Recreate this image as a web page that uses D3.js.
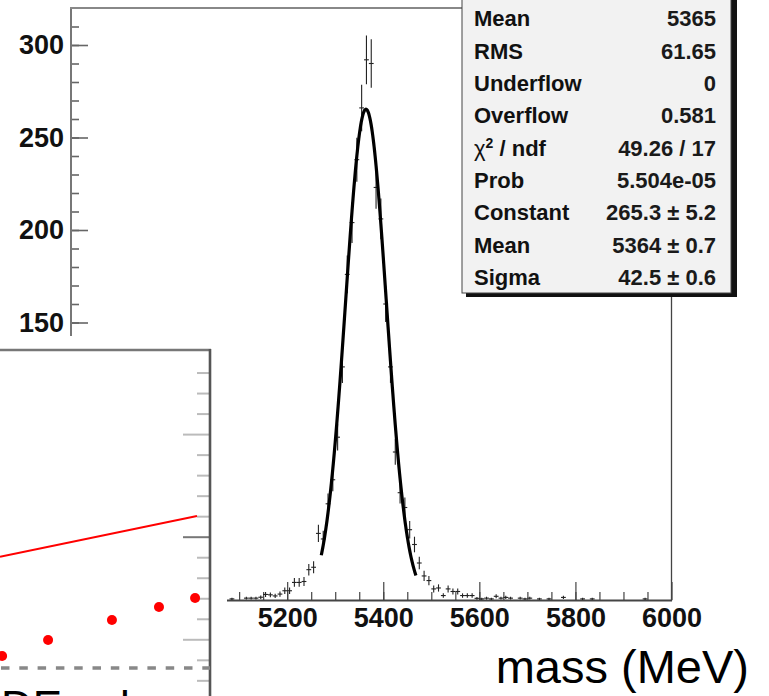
<!DOCTYPE html>
<html>
<head>
<meta charset="utf-8">
<script src="https://cdn.jsdelivr.net/npm/d3@7"></script>
<style>
  html, body { margin: 0; padding: 0; background: #fff; }
  svg { display: block; }
  text { font-family: "Liberation Sans", Arial, Helvetica, sans-serif; }
</style>
</head>
<body>
<svg id="chart" width="769" height="696"></svg>
<script>
// ---------------- data ----------------
const massBins = [5085,5115,5125,5135,5145,5155,5165,5175,5185,5195,5205,5215,5225,5235,5245,5255,5265,5275,5285,5295,5305,5315,5325,5335,5345,5355,5365,5375,5385,5395,5405,5415,5425,5435,5445,5455,5465,5475,5485,5495,5505,5515,5525,5535,5545,5555,5565,5575,5585,5595,5605,5615,5625,5635,5645,5655,5665,5685,5695,5705,5725,5745,5775,5815,5835,5945];
const counts = [0.6,1,1,1,1.5,3,2.8,2.2,3.2,5,5,9.5,9.5,10,16.4,17.7,36,33,52,65,88,126,176,204,238,266,292,290,223,206,160,126,80,58,50,38,30,20,13,10.5,6,6.5,2.4,6,4.6,4.6,2.4,2.4,2.4,0.9,0.6,1,0.6,2,1,1.4,1,1,0.6,1,0.6,0.6,1.4,0.6,0.6,0.6];
const binWidth = 10;
const errScale = 0.77;

const fitConstant = 265.3, fitMean = 5364, fitSigma = 42.5;
const fitRange = [5271, 5468];

const xMajorTicks = [5000, 5200, 5400, 5600, 5800, 6000];
const xTickLabels = ["5000", "5200", "5400", "5600", "5800", "6000"];
const yMajorTicks = [150, 200, 250, 300];

const statLabels = ["Mean", "RMS", "Underflow", "Overflow", "χ2 / ndf", "Prob", "Constant", "Mean", "Sigma"];
const statValues = ["5365", "61.65", "0", "0.581", "49.26 / 17", "5.504e-05", "265.3 ± 5.2", "5364 ± 0.7", "42.5 ± 0.6"];

// inset (partially visible second plot)
const insetDotX = [1, 22.9, 53.3, 75.7, 92.9];
const insetDotY = [-0.81, -0.03, 0.94, 1.57, 2.01];
const insetLineX = [0, 93.8];
const insetLineY = [4.02, 6.01];
const insetDashedY = -1.4;
const insetTicks = [-2,-1,0,1,2,3,4,5,6,7,8,9,10,11,12,13];

// ---------------- layout ----------------
const svg = d3.select("#chart");
const x = d3.scaleLinear().domain([4750, 6000]).range([71, 671.5]);
const y = d3.scaleLinear().domain([0, 320]).range([600, 8]);

// minor ticks y
svg.append("g").attr("transform", "translate(71,0)")
  .call(d3.axisLeft(y).tickValues(d3.range(0, 320, 10)).tickSize(-8).tickFormat(""))
  .call(g => g.select(".domain").remove())
  .call(g => g.selectAll("line").attr("stroke", "#666").attr("stroke-width", 1.6));
// major ticks y
svg.append("g").attr("transform", "translate(71,0)")
  .call(d3.axisLeft(y).tickValues(yMajorTicks).tickSize(-17).tickPadding(7).tickFormat(d3.format("d")))
  .call(g => g.select(".domain").remove())
  .call(g => g.selectAll("line").attr("stroke", "#666").attr("stroke-width", 1.6))
  .call(g => g.selectAll("text").attr("font-size", 27).attr("font-weight", "bold").attr("fill", "#111")
      .attr("font-family", "Liberation Sans, Arial, sans-serif"));

// x minor ticks
svg.append("g").attr("transform", "translate(0,600)")
  .call(d3.axisBottom(x).tickValues(d3.range(4800, 6000, 50)).tickSize(-8).tickFormat(""))
  .call(g => g.select(".domain").remove())
  .call(g => g.selectAll("line").attr("stroke", "#444").attr("stroke-width", 1.2));
// x major ticks
svg.append("g").attr("transform", "translate(0,600)")
  .call(d3.axisBottom(x).tickValues(xMajorTicks).tickSize(-18).tickPadding(8)
        .tickFormat((d, i) => xTickLabels[i]))
  .call(g => g.select(".domain").remove())
  .call(g => g.selectAll("line").attr("stroke", "#444").attr("stroke-width", 1.2))
  .call(g => g.selectAll("text").attr("font-size", 27).attr("font-weight", "bold").attr("fill", "#111")
      .attr("font-family", "Liberation Sans, Arial, sans-serif"));

// frame
svg.append("line").attr("x1", 71).attr("x2", 71).attr("y1", 8).attr("y2", 600)
  .attr("stroke", "#777").attr("stroke-width", 2);
svg.append("line").attr("x1", 70).attr("x2", 672).attr("y1", 8).attr("y2", 8)
  .attr("stroke", "#888").attr("stroke-width", 2);
svg.append("line").attr("x1", 70).attr("x2", 672).attr("y1", 600.5).attr("y2", 600.5)
  .attr("stroke", "#444").attr("stroke-width", 2);
svg.append("line").attr("x1", 671.5).attr("x2", 671.5).attr("y1", 8).attr("y2", 601)
  .attr("stroke", "#444").attr("stroke-width", 1.3);

// histogram points with error bars
const pts = svg.append("g").attr("stroke", "#222").attr("stroke-width", 1.1);
massBins.forEach((m, i) => {
  const v = counts[i];
  const e = errScale * Math.sqrt(v);
  pts.append("line").attr("x1", x(m - binWidth / 2)).attr("x2", x(m + binWidth / 2))
    .attr("y1", y(v)).attr("y2", y(v));
  pts.append("line").attr("x1", x(m)).attr("x2", x(m))
    .attr("y1", y(v + e)).attr("y2", y(Math.max(0, v - e)));
});

// fit curve
const fitPts = d3.range(fitRange[0], fitRange[1] + 0.5, 1).map(m =>
  [m, fitConstant * Math.exp(-0.5 * Math.pow((m - fitMean) / fitSigma, 2))]);
svg.append("path").datum(fitPts)
  .attr("d", d3.line().x(d => x(d[0])).y(d => y(d[1])).curve(d3.curveLinear))
  .attr("fill", "none").attr("stroke", "#000").attr("stroke-width", 3.2);

// stats box
const sb = svg.append("g");
sb.append("rect").attr("x", 466).attr("y", -10).attr("width", 271).attr("height", 307).attr("fill", "#111");
sb.append("rect").attr("x", 462).attr("y", -14).attr("width", 269).attr("height", 307)
  .attr("fill", "#f2f2f2").attr("stroke", "#444").attr("stroke-width", 1);
const rowY = d3.scaleLinear().domain([0, 8]).range([18.5, 277]);
statLabels.forEach((lab, i) => {
  const t = sb.append("text").attr("x", 474).attr("y", rowY(i)).attr("dy", "0.36em")
    .attr("font-size", 22).attr("font-weight", "bold").attr("fill", "#111");
  if (lab.startsWith("χ2")) {
    t.append("tspan").attr("font-weight", "normal").text("χ");
    t.append("tspan").attr("font-size", 14).attr("dy", "-0.55em").text("2");
    t.append("tspan").attr("dy", "0.35em").text(" / ndf");
  } else {
    t.text(lab);
  }
  sb.append("text").attr("x", 716).attr("y", rowY(i)).attr("dy", "0.36em")
    .attr("text-anchor", "end").attr("font-size", 22).attr("font-weight", "bold").attr("fill", "#1a1a1a")
    .text(statValues[i]);
});

// inset plot overlay (white background covering main plot)
svg.append("rect").attr("x", 0).attr("y", 336).attr("width", 227).attr("height", 360).attr("fill", "#fff");
const ix = d3.scaleLinear().domain([0, 100]).range([0, 210]);
const iy = d3.scaleLinear().domain([0, 5]).range([639.3, 536.7]);
const inset = svg.append("g");
inset.append("g").attr("transform", "translate(210,0)")
  .call(d3.axisLeft(iy).tickValues(insetTicks.filter(t => t % 5 !== 0)).tickSize(-13).tickFormat(""))
  .call(g => g.select(".domain").remove())
  .call(g => g.selectAll("line").attr("stroke", "#bbb").attr("stroke-width", 2).attr("x2", -13));
inset.append("g").attr("transform", "translate(210,0)")
  .call(d3.axisLeft(iy).tickValues(insetTicks.filter(t => t % 5 === 0)).tickFormat(""))
  .call(g => g.select(".domain").remove())
  .call(g => g.selectAll("line").attr("x2", -27)
      .attr("stroke", d => d === 5 ? "#777" : "#bbb").attr("stroke-width", 2));
inset.append("line").attr("x1", 0).attr("x2", 211).attr("y1", 350).attr("y2", 350)
  .attr("stroke", "#777").attr("stroke-width", 2.6);
inset.append("line").attr("x1", 210).attr("x2", 210).attr("y1", 349).attr("y2", 696)
  .attr("stroke", "#555").attr("stroke-width", 2.6);
inset.append("line").attr("x1", ix(0)).attr("x2", ix(100)).attr("y1", iy(insetDashedY)).attr("y2", iy(insetDashedY))
  .attr("stroke", "#888").attr("stroke-width", 3.5).attr("stroke-dasharray", "8.5,9.8").attr("stroke-dashoffset", -1);
inset.append("line").attr("x1", ix(insetLineX[0])).attr("x2", ix(insetLineX[1]))
  .attr("y1", iy(insetLineY[0])).attr("y2", iy(insetLineY[1]))
  .attr("stroke", "#ff0000").attr("stroke-width", 2);
inset.selectAll("circle.d").data(insetDotX).join("circle")
  .attr("cx", d => ix(d)).attr("cy", (d, i) => iy(insetDotY[i])).attr("r", 5).attr("fill", "#ff0000");
inset.append("text").attr("x", 1).attr("y", 722).attr("font-size", 44).attr("fill", "#000").text("DE");
inset.append("text").attr("x", 120).attr("y", 722).attr("font-size", 44).attr("fill", "#000").text("l");

// axis title
svg.append("text").attr("x", 749).attr("y", 683).attr("text-anchor", "end")
  .attr("font-size", 47).attr("fill", "#000").text("mass (MeV)");
</script>
</body>
</html>
